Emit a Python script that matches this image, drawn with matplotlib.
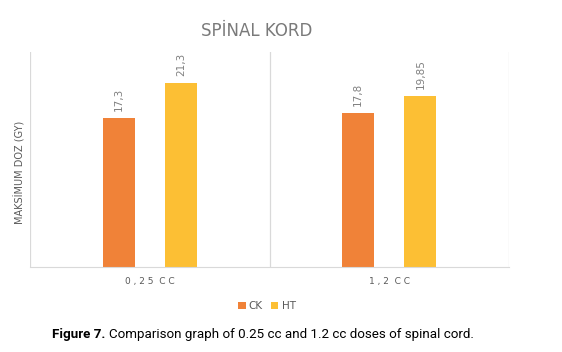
import matplotlib
matplotlib.use("Agg")
import matplotlib.pyplot as plt
import numpy as np

categories = ["0,25 CC", "1,2 CC"]
series_names = ["CK", "HT"]
ck_values = [17.3, 17.8]
ht_values = [21.3, 19.85]
value_labels = [["17,3", "17,8"], ["21,3", "19,85"]]
colors = ["#F08238", "#FCBF34"]

fig = plt.figure(figsize=(5.62, 3.52), dpi=100)
ax = fig.add_axes([0.0534, 0.2415, 0.8523, 0.6105])

x = np.arange(len(categories))
w = 0.134
off = 0.13
for i, (vals, name) in enumerate(zip([ck_values, ht_values], series_names)):
    pos = x + (i * 2 - 1) * off
    ax.bar(pos, vals, width=w, color=colors[i], label=name, zorder=2)
    for p, v, lab in zip(pos, vals, value_labels[i]):
        ax.text(p, v + 0.8, lab, rotation=90, ha="center", va="bottom",
                fontsize=7.5, color="#808080")

ax.set_xlim(-0.5, 1.5)
ax.set_ylim(0, 24.9)
for b in [-0.5, 0.5, 1.5]:
    ax.axvline(b, color="#d9d9d9", lw=0.9, zorder=1)
for s in ["top", "right", "left"]:
    ax.spines[s].set_visible(False)
ax.spines["bottom"].set_color("#d9d9d9")
ax.set_yticks([])
ax.set_xticks(x)
spaced = [" ".join(c).replace("   ", "  ") for c in categories]
ax.set_xticklabels(spaced, fontsize=6.5, color="#595959")
ax.tick_params(axis="x", length=0, pad=7)
ax.set_ylabel("MAKSİMUM DOZ (GY)", fontsize=7, color="#595959")
ax.yaxis.set_label_coords(-0.01, 0.44)

fig.text(0.456, 0.913, "SPİNAL KORD", ha="center", va="center", fontsize=12,
         color="#7a7a7a")

leg = fig.legend(loc="center", bbox_to_anchor=(0.475, 0.13), ncol=2, frameon=False,
                 fontsize=7.5, handlelength=0.7, handleheight=0.7,
                 columnspacing=0.8, handletextpad=0.3)
for t in leg.get_texts():
    t.set_color("#595959")

# caption: bold "Figure 7." followed by regular text, fitted to the reference width
cap_family = ["Roboto", "DejaVu Sans"]
cap_left, cap_right, cap_y = 52, 472, 0.05
fs = 10.5
fig.canvas.draw()
r = fig.canvas.get_renderer()
for _ in range(3):
    t1 = fig.text(cap_left / 562, cap_y, "Figure 7.", fontsize=fs, fontweight="bold",
                  family=cap_family, va="center", ha="left")
    bb = t1.get_window_extent(r)
    t2 = fig.text((bb.x1 + 4) / 562, cap_y,
                  "Comparison graph of 0.25 cc and 1.2 cc doses of spinal cord.",
                  fontsize=fs, family=cap_family, va="center", ha="left")
    bb2 = t2.get_window_extent(r)
    total = bb2.x1 - cap_left
    if abs(total - (cap_right - cap_left)) < 3:
        break
    t1.remove()
    t2.remove()
    fs = fs * (cap_right - cap_left) / total

fig.savefig("out.png", dpi=100)
